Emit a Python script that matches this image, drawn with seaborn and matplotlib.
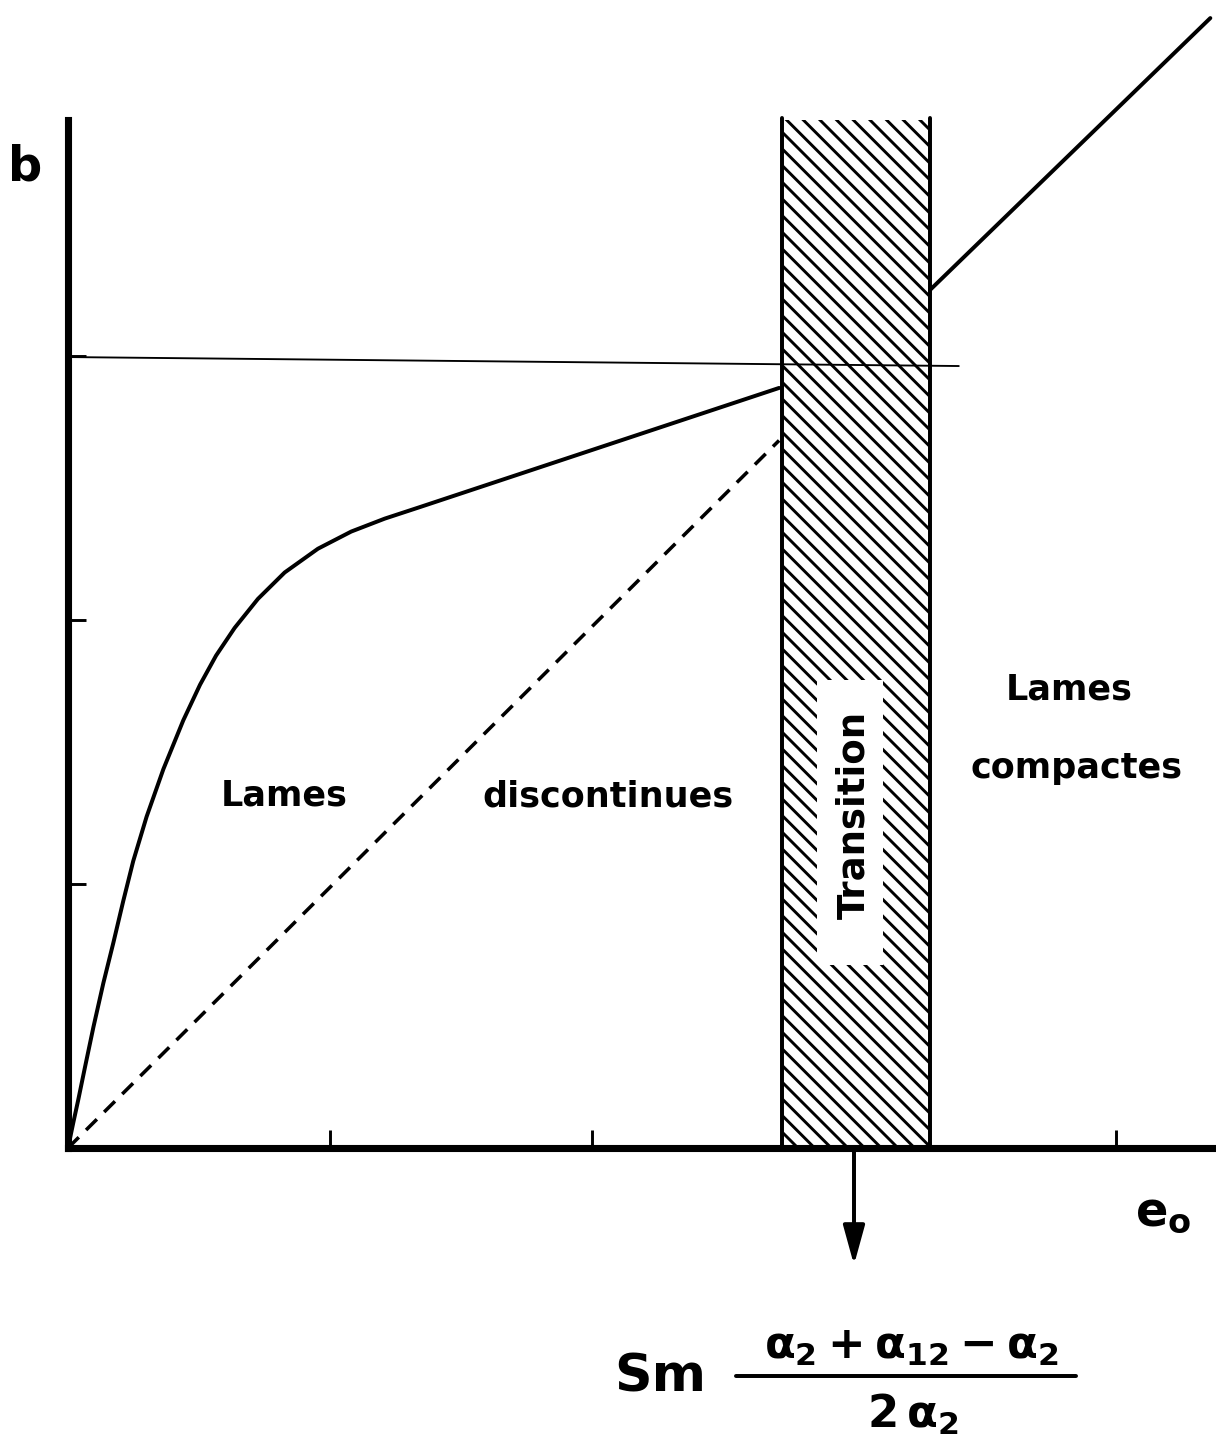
import numpy as np
import pandas as pd
import matplotlib
matplotlib.use("Agg")
import matplotlib.pyplot as plt
from matplotlib.patches import Rectangle
import seaborn as sns

# values (x in e0 tick units, y in b tick units)
curve_x = [0.0, 0.020, 0.039, 0.065, 0.097, 0.135, 0.173, 0.211, 0.249, 0.300,
           0.364, 0.440, 0.504, 0.565, 0.636, 0.725, 0.827, 0.954, 1.081, 1.209,
           1.344, 2.714]
curve_y = [0.0, 0.095, 0.182, 0.307, 0.458, 0.625, 0.777, 0.936, 1.087, 1.255,
           1.435, 1.620, 1.755, 1.865, 1.970, 2.080, 2.180, 2.270, 2.335, 2.384,
           2.428, 2.879]

dashed_x = [0.0, 2.714]
dashed_y = [0.0, 2.68]

compact_x = [3.29, 4.36]
compact_y = [3.25, 4.28]

ref_x = [0.0, 3.40]
ref_y = [2.996, 2.962]

band_left = 2.725
band_right = 3.29
band_top = 3.90

arrow_x = 3.0
x_ticks = [1, 2, 4]
y_ticks = [1, 2, 3]

W, H, DPI = 1216, 1441, 150

sns.set_theme(style="white")
plt.rcParams["font.family"] = ["DejaVu Sans"]
plt.rcParams["text.color"] = "black"
plt.rcParams["mathtext.fontset"] = "custom"
plt.rcParams["mathtext.rm"] = "DejaVu Sans:bold"
plt.rcParams["mathtext.it"] = "DejaVu Sans:bold"
plt.rcParams["mathtext.bf"] = "DejaVu Sans:bold"
plt.rcParams["hatch.linewidth"] = 1.4

fig = plt.figure(figsize=(W / DPI, H / DPI), dpi=DPI)
ax = fig.add_axes([68 / W, 1 - 1148 / H, 1144 / W, 1028 / H])
ax.set_xlim(0, 1144 / 262)
ax.set_ylim(0, 1028 / 264)

# hatched transition band
ax.axvspan(band_left, band_right, facecolor="white", edgecolor="black",
           hatch="\\\\\\", linewidth=0, zorder=1)
for bx in [band_left, band_right]:
    ax.plot([bx, bx], [0, band_top], color="black", lw=1.9, clip_on=False, zorder=3)

# thin reference line
ax.plot(ref_x, ref_y, color="black", lw=0.9, clip_on=False, zorder=3)

curve = pd.DataFrame({"e0": curve_x, "b": curve_y})
sns.lineplot(data=curve, x="e0", y="b", ax=ax, color="black", lw=1.9,
             zorder=4, clip_on=False)
sns.lineplot(x=dashed_x, y=dashed_y, ax=ax, color="black", lw=1.7,
             linestyle=(0, (4.3, 2.9)), zorder=4)
sns.lineplot(x=compact_x, y=compact_y, ax=ax, color="black", lw=1.9,
             zorder=4, clip_on=False)

# axes
sns.despine(ax=ax)
for side in ["left", "bottom"]:
    ax.spines[side].set_linewidth(3.4)
    ax.spines[side].set_color("black")
    ax.spines[side].set_capstyle("projecting")
    ax.spines[side].set_zorder(5)
ax.set_xticks(x_ticks)
ax.set_yticks(y_ticks)
ax.tick_params(direction="in", length=8.6, width=1.4, color="black",
               labelbottom=False, labelleft=False, bottom=True, left=True)
ax.set_xlabel("")
ax.set_ylabel("")

# arrow below the band
ax.annotate("", xy=(arrow_x, -0.443), xytext=(arrow_x, 0),
            arrowprops=dict(arrowstyle="-|>,head_length=0.8,head_width=0.22",
                            color="black", lw=1.9, mutation_scale=20,
                            shrinkA=0, shrinkB=0),
            annotation_clip=False)

# region labels
lab = dict(fontsize=16.8, fontweight="bold", color="black", ha="center", va="center")
ax.text(0.824, 1.337, "Lames", **lab)
ax.text(2.061, 1.33, "discontinues", **lab)
ax.text(3.82, 1.735, "Lames", **lab)
ax.text(3.85, 1.44, "compactes", **lab)

# white window in the hatching for the vertical label
ax.add_patch(Rectangle((2.859, 0.693), 0.252, 1.08, facecolor="white",
                       edgecolor="none", zorder=2))
ax.text(3.0, 1.26, "Transition", rotation=90, fontsize=17.8, fontweight="bold",
        ha="center", va="center", zorder=6)

def fx(px):
    return px / W

def fy(py):
    return 1 - py / H

fig.text(fx(25), fy(167), "b", fontsize=23, fontweight="bold", ha="center", va="center")
fig.text(fx(1163), fy(1213), r"$e_o$", fontsize=23, ha="center", va="center")

fig.text(fx(660), fy(1378), "Sm", fontsize=25, fontweight="bold", ha="center", va="center")
fig.text(fx(912), fy(1346), r"$\alpha_2+\alpha_{12}-\alpha_2$", fontsize=21.6,
         ha="center", va="center")
fig.add_artist(plt.Line2D([fx(736), fx(1076)], [fy(1376), fy(1376)],
                          color="black", lw=1.9))
fig.text(fx(913), fy(1414), r"$2\,\alpha_2$", fontsize=21.6, ha="center", va="center")

fig.savefig("out.png", dpi=DPI)
